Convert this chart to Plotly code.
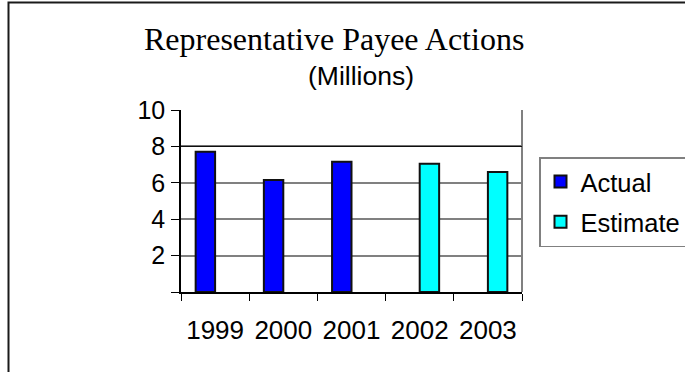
import plotly.graph_objects as go

# Representative payee actions, in millions
years = ["1999", "2000", "2001", "2002", "2003"]
actual = [7.7, 6.15, 7.15, None, None]
estimate = [None, None, None, 7.05, 6.6]
y_ticks = [0, 2, 4, 6, 8, 10]
y_tick_text = ["", "2", "4", "6", "8", "10"]

SANS = "Liberation Sans"
SERIF = "Liberation Serif"

fig = go.Figure()
fig.add_trace(go.Bar(
    name="Actual", x=years, y=actual, legendgroup="actual",
    marker=dict(color="#0000FF", line=dict(color="#111111", width=2)),
))
fig.add_trace(go.Bar(
    name="Estimate", x=years, y=estimate, legendgroup="estimate",
    marker=dict(color="#00FFFF", line=dict(color="#111111", width=2)),
))

# plot area in pixels: x 181..522, y 110..292
L, R, T, B = 181, 522, 110, 292
W, H = 685, 372


def px(x):
    return (x - L) / (R - L)


def py(y):
    return (B - y) / (B - T)


fig.update_layout(
    width=W, height=H,
    margin=dict(l=L, r=W - R, t=T, b=H - B, pad=0, autoexpand=False),
    paper_bgcolor="white", plot_bgcolor="white",
    barmode="group", bargap=0.43, bargroupgap=0,
    showlegend=True,
    font=dict(family=SANS, size=25, color="black"),
    legend=dict(
        x=px(539), y=py(157), xanchor="left", yanchor="top",
        bgcolor="white", bordercolor="#808080", borderwidth=1.5,
        font=dict(family=SANS, size=25.5, color="black"),
        itemsizing="constant", tracegroupgap=4,
    ),
    xaxis=dict(
        type="category", range=[-0.5, 4.5], tickson="boundaries",
        showline=True, linecolor="black", linewidth=1.5,
        ticks="outside", ticklen=7, tickcolor="black", tickwidth=1.2,
        showgrid=False, ticklabelstandoff=14,
        tickfont=dict(family=SANS, size=26),
        fixedrange=True,
    ),
    yaxis=dict(
        range=[0, 10], tickvals=y_ticks, ticktext=y_tick_text,
        showline=True, linecolor="black", linewidth=1.5,
        ticks="outside", ticklen=8, tickcolor="black", tickwidth=1.2,
        showgrid=True, gridcolor="#808080", gridwidth=1.5,
        zeroline=False, ticklabelstandoff=1,
        tickfont=dict(family=SANS, size=25),
        fixedrange=True,
    ),
    annotations=[
        dict(text="Representative Payee Actions", x=px(333.5), y=py(39),
             xref="paper", yref="paper", xanchor="center", yanchor="middle",
             showarrow=False, font=dict(family=SERIF, size=32, color="black")),
        dict(text="(Millions)", x=px(360.5), y=py(76),
             xref="paper", yref="paper", xanchor="center", yanchor="middle",
             showarrow=False, font=dict(family=SANS, size=26.5, color="black")),
    ],
    shapes=[
        # right edge of the plot area
        dict(type="line", xref="paper", yref="paper", x0=1, x1=1, y0=0, y1=1,
             line=dict(color="#808080", width=2)),
        # darker gridline at 8
        dict(type="line", xref="paper", yref="y", x0=0, x1=1, y0=8, y1=8,
             line=dict(color="black", width=1)),
        # outer chart frame
        dict(type="path", xref="paper", yref="paper",
             path=f"M {px(8.5)},{py(H + 5)} L {px(8.5)},{py(2.5)} L {px(W + 5)},{py(2.5)}",
             line=dict(color="#1a1a1a", width=2)),
    ],
)

fig.write_html("out.html", config={"displayModeBar": False})
